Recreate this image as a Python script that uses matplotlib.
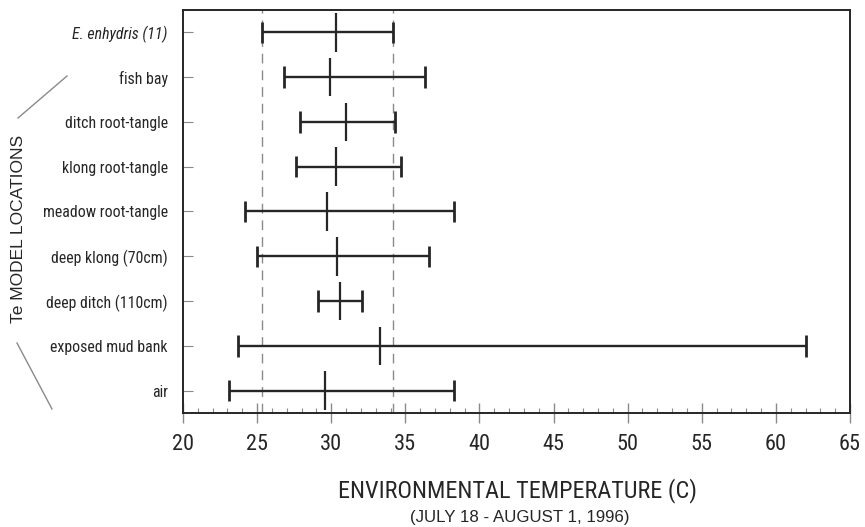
"""Te model locations: range and mean of environmental temperature."""


# --- import --------------------------------------------------------------------------------------


import matplotlib

matplotlib.use("Agg")

import matplotlib.pyplot as plt
from matplotlib.lines import Line2D
from matplotlib.ticker import MultipleLocator

import numpy as np


# --- data ----------------------------------------------------------------------------------------


# bottom to top, as drawn
locations = [
    "air",
    "exposed mud bank",
    "deep ditch (110cm)",
    "deep klong (70cm)",
    "meadow root-tangle",
    "klong root-tangle",
    "ditch root-tangle",
    "fish bay",
    "E. enhydris (11)",
]
t_min = [23.1, 23.7, 29.1, 25.0, 24.2, 27.6, 27.9, 26.8, 25.3]
t_mean = [29.6, 33.3, 30.6, 30.4, 29.7, 30.3, 31.0, 29.9, 30.3]
t_max = [38.3, 62.0, 32.1, 36.6, 38.3, 34.7, 34.3, 36.3, 34.2]

# dashed reference lines (E. enhydris range)
ref_lines = [25.35, 34.2]

x_ticks = [20, 25, 30, 35, 40, 45, 50, 55, 60, 65]


# --- define --------------------------------------------------------------------------------------


# condensed face for most text, plain Helvetica-like face for the rest
narrow = ["Roboto Condensed", "Liberation Sans", "DejaVu Sans"]
regular = ["Liberation Sans", "DejaVu Sans"]

ink = "#262626"
grey = "#8a8a8a"

plt.rcParams["font.family"] = narrow


# --- plot ----------------------------------------------------------------------------------------


fig = plt.figure(figsize=(8.65, 5.27), dpi=100)
ax = fig.add_axes([183 / 865, 1 - 413 / 527, (850 - 183) / 865, (413 - 10) / 527])

y = np.arange(len(locations))

# reference lines
for xv in ref_lines:
    ax.axvline(xv, color=grey, lw=1.0, ls=(0, (7, 5)), zorder=1)

# range bars
ax.hlines(y, t_min, t_max, color=ink, lw=1.7, zorder=3)
ax.vlines(t_min, y - 0.24, y + 0.24, color=ink, lw=2.0, zorder=3)
ax.vlines(t_max, y - 0.24, y + 0.24, color=ink, lw=2.0, zorder=3)
ax.vlines(t_mean, y - 0.43, y + 0.43, color=ink, lw=1.6, zorder=3)

ax.set_xlim(20, 65)
ax.set_ylim(-0.5, len(locations) - 0.5)

# axes styling
for side in ax.spines.values():
    side.set_color(ink)
    side.set_linewidth(1.4)

ax.set_xticks(x_ticks)
ax.set_xticklabels([str(v) for v in x_ticks])
ax.xaxis.set_minor_locator(MultipleLocator(1))
ax.tick_params(axis="x", which="major", direction="inout", length=14, width=1.0,
               color=grey, labelsize=16, labelcolor=ink, pad=8)
ax.tick_params(axis="x", which="minor", direction="in", length=3.5, width=0.8, color=grey)

ax.set_yticks(y)
ax.set_yticklabels(locations)
ax.tick_params(axis="y", which="major", direction="in", length=7, width=0.8,
               color=grey, labelsize=11.4, labelcolor=ink, pad=11)
ax.get_yticklabels()[-1].set_fontstyle("italic")

# axis titles
fig.text(518 / 865, 1 - 497 / 527, "ENVIRONMENTAL TEMPERATURE (C)", ha="center",
         va="baseline", fontsize=17.5, color=ink)
fig.text(520 / 865, 1 - 522 / 527, "(JULY 18 - AUGUST 1, 1996)", ha="center",
         va="baseline", fontsize=12.2, color=ink, family=regular)
fig.text(19 / 865, 1 - 229 / 527, "Te MODEL LOCATIONS", rotation=90, ha="center",
         va="center", fontsize=12.5, color=ink, family=regular)

# slash marks around the y title
fig.add_artist(Line2D([18 / 865, 67 / 865], [1 - 118 / 527, 1 - 76 / 527],
                      transform=fig.transFigure, color=grey, lw=1.0))
fig.add_artist(Line2D([17 / 865, 52 / 865], [1 - 343 / 527, 1 - 409 / 527],
                      transform=fig.transFigure, color=grey, lw=1.0))

fig.savefig("out.png", dpi=100, facecolor="white")
